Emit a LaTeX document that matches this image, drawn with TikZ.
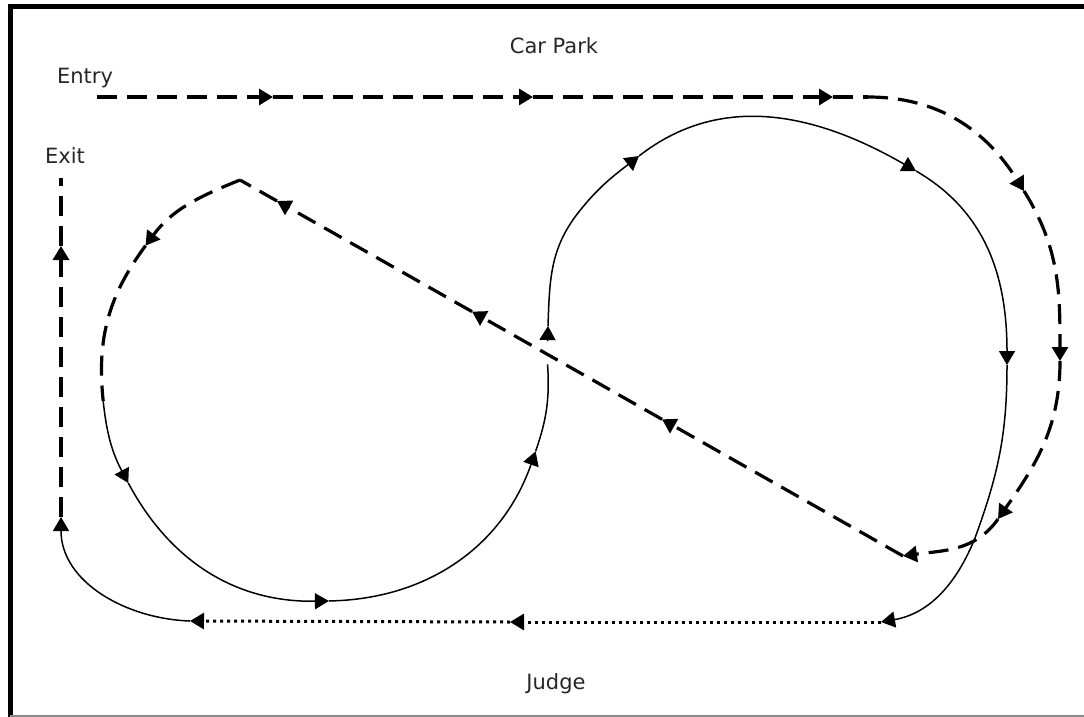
\documentclass[tikz,border=0pt]{standalone}
\usepackage{fontspec}
\setmainfont{DejaVu Sans}
\usetikzlibrary{arrows.meta,calc}
\begin{document}
\begin{tikzpicture}[x=1pt,y=1pt,
  tip/.tip={Triangle[length=14pt,width=16pt]},
  dsh/.style={line width=3.2pt, dash pattern=on 20pt off 10pt, -tip},
  sol/.style={line width=1.5pt, -tip},
  dtt/.style={line width=3pt, dash pattern=on 3pt off 4pt, -tip},
  lbl/.style={font=\fontsize{21}{25}\selectfont, text=black!85, anchor=base, inner sep=0pt}]
\useasboundingbox (0,0) rectangle (1084,-717);
% frame
\draw[line width=5pt] (10,-717) -- (10,-7) -- (1084,-7);
\draw[black!45, line width=2pt] (10,-715.5) -- (1084,-715.5);
% labels
\node[lbl] (carpark) at (554,-53) {Car Park};
\node[lbl] (entry) at (85,-83) {Entry};
\node[lbl] (exit) at (65,-163) {Exit};
\node[lbl] (judge) at (556,-689) {Judge};
% coordinates
\coordinate (en) at (97,-97);
\coordinate (a1) at (273,-97);
\coordinate (a2) at (533,-97);
\coordinate (a3) at (833,-97);
\coordinate (b0) at (868,-97);
\coordinate (a4) at (1024,-191);
\coordinate (a5) at (1060,-361);
\coordinate (a6) at (998,-519);
\coordinate (cr) at (903,-556);
\coordinate (d1) at (662,-419.3);
\coordinate (d2) at (472,-311.6);
\coordinate (d3) at (277,-201);
\coordinate (tp) at (240,-180);
% left loop: circle centre (325,-378), radius 223
\coordinate (lc) at (325,-378);
\coordinate (l1) at ($(lc)+(143.6:223)$);
\coordinate (l2) at ($(lc)+(186:223)$);
\coordinate (s1) at ($(lc)+(208.1:223)$);
\coordinate (s2) at ($(lc)+(271:223)$);
\coordinate (s3) at ($(lc)+(-19.2:223)$);
\coordinate (s4) at ($(lc)+(3.5:223)$);
% right loop
\coordinate (u0) at (547.5,-341);
\coordinate (u1) at (548,-326);
\coordinate (m1) at (578,-213);
\coordinate (u2) at (639,-156);
\coordinate (u3) at (916,-171);
\coordinate (u4) at (1007,-365);
\coordinate (m2) at (975,-538);
\coordinate (u5) at (881,-622);
\coordinate (dt1) at (510,-622);
\coordinate (dt2) at (190,-621);
\coordinate (x1) at (61,-517);
\coordinate (x2) at (61,-246);
\coordinate (x3) at (61,-178);
% outer dashed route
\draw[dsh] (en) -- (a1);
\draw[dsh] (a1) -- (a2);
\draw[dsh] (a2) -- (a3);
\draw[dsh,-] (a3) -- (b0);
\draw[dsh] (b0) to[out=0,in=122] (a4);
\draw[dsh] (a4) to[out=-58,in=90] (a5);
\draw[dsh] (a5) to[out=-90,in=55] (a6);
\draw[dsh] (a6) to[out=235,in=8] (cr);
% diagonal
\draw[dsh] (cr) -- (d1);
\draw[dsh] (d1) -- (d2);
\draw[dsh] (d2) -- (d3);
\draw[dsh,-] (d3) -- (tp);
% left dashed arc
\draw[dsh] (tp) to[out=202,in=53.6] (l1);
\draw[dsh,-] (l1) to[out=233.6,in=96] (l2);
% left solid loop
\draw[sol] (l2) to[out=276,in=118.1] (s1);
\draw[sol] (s1) to[out=298.1,in=181] (s2);
\draw[sol] (s2) to[out=1,in=-109.2] (s3);
\draw[sol,-] (s3) to[out=70.8,in=-86.5] (s4);
% right solid loop
\draw[sol] (u0) -- (u1);
\draw[sol] (u1) to[out=88,in=-128] (m1) to[out=52,in=-142] (u2);
\draw[sol] (u2) to[out=38,in=150] (u3);
\draw[sol] (u3) to[out=-30,in=90] (u4);
\draw[sol] (u4) to[out=-90,in=70] (m2) to[out=-112,in=10] (u5);
% dotted judge line
\draw[dtt] (u5) -- (dt1);
\draw[dtt] (dt1) -- (dt2);
% to exit
\draw[sol] (dt2) to[out=178,in=-90] (x1);
\draw[dsh] (x1) -- (x2);
\draw[dsh,-] (x2) -- (x3);
\end{tikzpicture}
\end{document}
